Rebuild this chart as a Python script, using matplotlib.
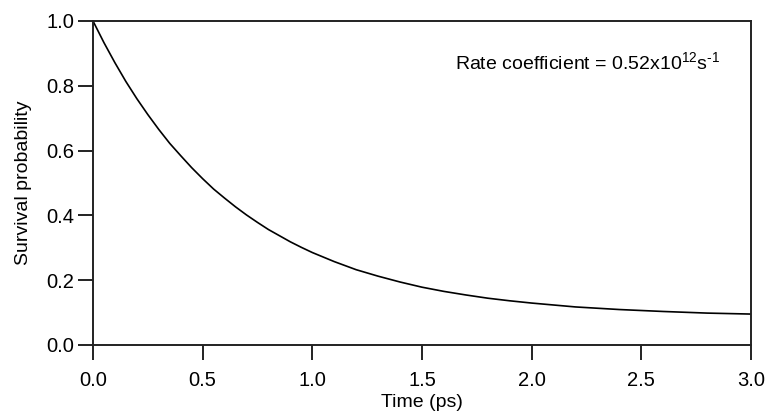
import numpy as np
import matplotlib.pyplot as plt

plt.rcParams['font.family'] = ['Liberation Sans', 'DejaVu Sans']
plt.rcParams['mathtext.fontset'] = 'custom'
plt.rcParams['mathtext.rm'] = 'Liberation Sans'
plt.rcParams['mathtext.it'] = 'Liberation Sans'

# survival curve
time_ps = [0.0, 0.05, 0.1, 0.15, 0.2, 0.25, 0.3, 0.35, 0.4, 0.45, 0.5,
           0.55, 0.6, 0.65, 0.7, 0.75, 0.8, 0.85, 0.9, 0.95, 1.0,
           1.1, 1.2, 1.3, 1.4, 1.5, 1.6, 1.7, 1.8, 1.9, 2.0,
           2.2, 2.4, 2.6, 2.8, 3.0]
survival = [1.000, 0.933, 0.871, 0.813, 0.760, 0.711, 0.665, 0.622, 0.584, 0.547, 0.513,
            0.481, 0.453, 0.426, 0.401, 0.378, 0.356, 0.337, 0.318, 0.301, 0.285,
            0.257, 0.232, 0.212, 0.194, 0.178, 0.165, 0.154, 0.144, 0.136, 0.129,
            0.117, 0.109, 0.103, 0.098, 0.095]

xticks = [0.0, 0.5, 1.0, 1.5, 2.0, 2.5, 3.0]
yticks = [0.0, 0.2, 0.4, 0.6, 0.8, 1.0]

fig = plt.figure(figsize=(7.71, 4.19), dpi=100)
ax = fig.add_axes([0.1206, 0.177, 0.8534, 0.773])

ax.plot(time_ps, survival, color='black', lw=1.2)

ax.set_xlim(0, 3)
ax.set_ylim(0, 1)
ax.set_xticks(xticks)
ax.set_yticks(yticks)
ax.set_xticklabels([f'{v:.1f}' for v in xticks])
ax.set_yticklabels([f'{v:.1f}' for v in yticks])
ax.tick_params(direction='out', length=10.5, width=1.4, labelsize=14.5, color='#222222')
ax.tick_params(axis='x', pad=8)
ax.tick_params(axis='y', pad=3)
for s in ax.spines.values():
    s.set_linewidth(1.4)
    s.set_color('#222222')

ax.set_xlabel('Time (ps)', fontsize=14, labelpad=3)
ax.set_ylabel('Survival probability', fontsize=14, labelpad=10)

ax.text(0.953, 0.873, r'Rate coefficient = 0.52x10$^{12}$s$^{\text{-}1}$', transform=ax.transAxes,
        ha='right', va='center', fontsize=14)

fig.savefig('out.png', dpi=100)
